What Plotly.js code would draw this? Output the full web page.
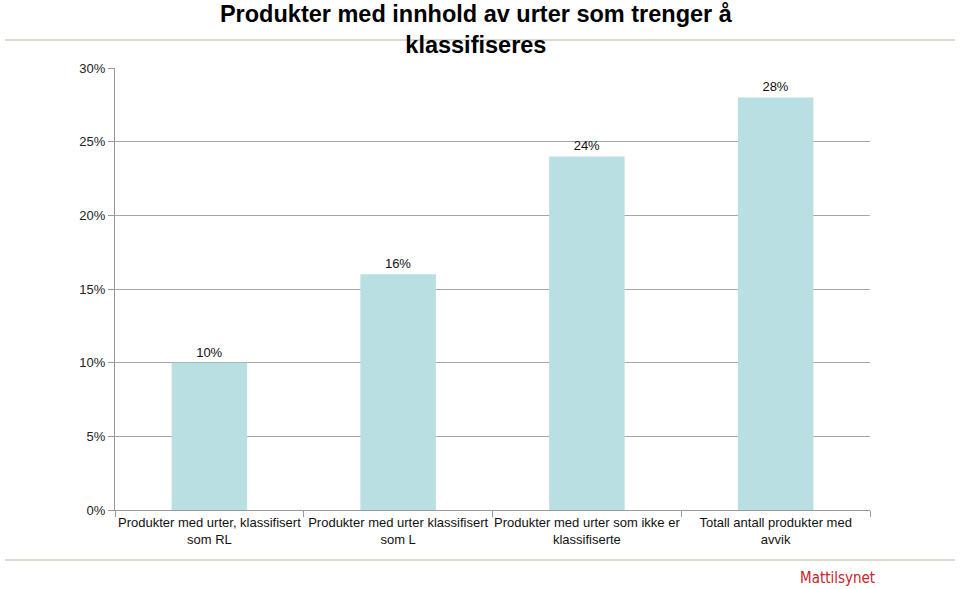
<!DOCTYPE html>
<html><head><meta charset="utf-8">
<script src="https://cdn.plot.ly/plotly-3.0.1.min.js"></script>
<style>html,body{margin:0;padding:0;background:#fff;}#chart{width:960px;height:589px;}</style>
</head><body><div id="chart"></div>
<script>
const categories = [
  "Produkter med urter, klassifisert<br>som RL",
  "Produkter med urter klassifisert<br>som L",
  "Produkter med urter som ikke er<br>klassifiserte",
  "Totall antall produkter med<br>avvik"
];
const values = [0.10, 0.16, 0.24, 0.28];
const valueLabels = ["10%", "16%", "24%", "28%"];
const yTickVals = [0, 0.05, 0.10, 0.15, 0.20, 0.25, 0.30];
const yTickText = ["0%", "5%", "10%", "15%", "20%", "25%", "30%"];

const trace = {
  type: 'bar', x: categories, y: values,
  text: valueLabels, textposition: 'outside', cliponaxis: false,
  textfont: {family: 'Liberation Sans, Arial, sans-serif', size: 13, color: '#111'},
  marker: {color: '#badfe2'}, hoverinfo: 'none'
};
const layout = {
  width: 960, height: 589,
  margin: {l: 115, r: 90, t: 68, b: 79},
  paper_bgcolor: '#fff', plot_bgcolor: '#fff',
  bargap: 0.6, showlegend: false,
  font: {family: 'Liberation Sans, Arial, sans-serif', size: 13, color: '#111'},
  title: {text: 'Produkter med innhold av urter som trenger å<br>klassifiseres',
    font: {family: 'Liberation Sans, Arial, sans-serif', size: 23.5, color: '#000', weight: 'bold'},
    x: 0.478, xref: 'paper', xanchor: 'center', y: 0.962, yref: 'container', yanchor: 'top'},
  xaxis: {type: 'category', tickson: 'boundaries', ticks: 'outside', ticklen: 6, tickangle: 0,
    tickcolor: '#999', showline: true, linecolor: '#999', linewidth: 1,
    showgrid: false, tickfont: {size: 13, color: '#111'}, fixedrange: true},
  yaxis: {range: [0, 0.30], tickvals: yTickVals, ticktext: yTickText,
    ticks: 'outside', ticklen: 6, tickcolor: '#999', showline: true, linecolor: '#999',
    showgrid: true, gridcolor: '#a6a6a6', gridwidth: 1, zeroline: false,
    tickfont: {size: 13, color: '#222'}, fixedrange: true},
  shapes: [
    {type: 'line', xref: 'paper', yref: 'paper', x0: -0.1457, x1: 1.1126, y0: 1.0633, y1: 1.0633,
      line: {color: '#cfcfc6', width: 1.5}, layer: 'below'},
    {type: 'line', xref: 'paper', yref: 'paper', x0: -0.1457, x1: 1.1126, y0: -0.1131, y1: -0.1131,
      line: {color: '#cfcfc6', width: 1.5}, layer: 'below'}
  ],
  annotations: [
    {text: 'Mattilsynet', xref: 'paper', yref: 'paper', x: 0.9576, y: -0.1538,
      xanchor: 'center', yanchor: 'middle',
      showarrow: false, font: {family: 'Liberation Sans Narrow, DejaVu Sans Condensed, sans-serif', size: 15, color: '#cc2229'}}
  ]
};
Plotly.newPlot('chart', [trace], layout, {displayModeBar: false, staticPlot: true});
</script></body></html>
